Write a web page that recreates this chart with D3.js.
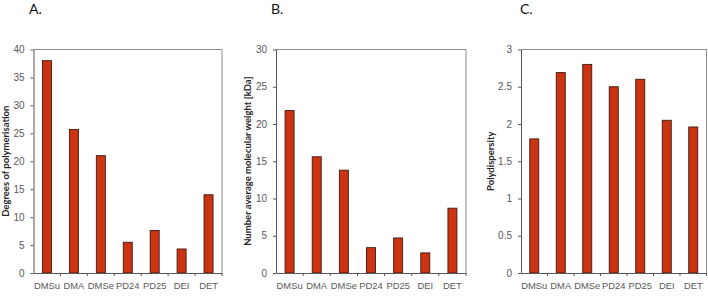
<!DOCTYPE html>
<html>
<head>
<meta charset="utf-8">
<script src="https://cdn.jsdelivr.net/npm/d3@7"></script>
<style>
  body { margin: 0; background: #fff; }
  svg { font-family: Lato, "Open Sans", sans-serif; }
  .axis text { fill: #595959; font-size: 10px; }
  .axis-x text { font-size: 9.4px; }
  .axis path, .axis line { stroke: #595959; }
</style>
</head>
<body>
<div id="chart"></div>
<script>
const categories = ['DMSu', 'DMA', 'DMSe', 'PD24', 'PD25', 'DEI', 'DET'];
const polymerisation = [38, 25.7, 21, 5.5, 7.6, 4.3, 14];
const molWeight = [21.8, 15.6, 13.8, 3.4, 4.7, 2.7, 8.7];
const polydispersity = [1.8, 2.69, 2.8, 2.5, 2.6, 2.05, 1.96];

const panels = [
  { letter: 'A.', label: 'Degrees of polymerisation', values: polymerisation,
    max: 40, step: 5, left: 33.5, right: 222, labelX: 9, letterX: 29 },
  { letter: 'B.', label: 'Number average molecular weight [kDa]', values: molWeight,
    max: 30, step: 5, left: 276, right: 466, labelX: 251, letterX: 271 },
  { letter: 'C.', label: 'Polydispersity', values: polydispersity,
    max: 3, step: 0.5, left: 521, right: 706.5, labelX: 494, letterX: 520 }
];

const width = 708, height = 306;
const plotTop = 49.5, plotBottom = 273;

const svg = d3.select('#chart')
  .append('svg')
    .attr('width', width)
    .attr('height', height);

panels.forEach(p => {
  const xScale = d3.scaleBand()
    .domain(categories)
    .range([p.left, p.right]);

  const yScale = d3.scaleLinear()
    .domain([0, p.max])
    .range([plotBottom, plotTop]);

  const g = svg.append('g');

  // frame (top and right)
  g.append('path')
    .attr('d', `M${p.left},${plotTop}H${p.right}V${plotBottom}`)
    .attr('fill', 'none')
    .attr('stroke', '#8c8c8c')
    .attr('stroke-width', 1);

  // bars
  const bw = 9;
  g.selectAll('.bar')
      .data(p.values)
    .enter().append('rect')
      .attr('class', 'bar')
      .attr('x', (d, i) => xScale(categories[i]) + xScale.bandwidth() / 2 - bw / 2)
      .attr('y', d => yScale(d))
      .attr('width', bw)
      .attr('height', d => plotBottom - yScale(d))
      .attr('fill', '#cc3311')
      .attr('stroke', '#3b1a12')
      .attr('stroke-width', 0.9);

  // y axis
  const ticks = d3.range(0, p.max + p.step / 2, p.step);
  g.append('g')
    .attr('class', 'axis axis-y')
    .attr('transform', `translate(${p.left}, 0)`)
    .call(d3.axisLeft(yScale).tickValues(ticks).tickSize(3).tickSizeOuter(0).tickPadding(6)
      .tickFormat(d => d3.format('')(d)));

  // x axis with ticks at band boundaries
  const xAxis = g.append('g')
    .attr('class', 'axis axis-x')
    .attr('transform', `translate(0, ${plotBottom})`)
    .call(d3.axisBottom(xScale).tickSize(0).tickSizeOuter(0).tickPadding(9));
  xAxis.selectAll('.bound')
      .data(categories.slice(1).concat(['end']))
    .enter().append('line')
      .attr('class', 'bound')
      .attr('x1', (d, i) => i < categories.length - 1 ? xScale(d) : p.right)
      .attr('x2', (d, i) => i < categories.length - 1 ? xScale(d) : p.right)
      .attr('y1', 0)
      .attr('y2', 3);

  // y label
  g.append('text')
    .attr('transform', `translate(${p.labelX}, ${(plotTop + plotBottom) / 2}) rotate(-90)`)
    .attr('text-anchor', 'middle')
    .attr('font-size', 9.5)
    .attr('font-weight', 'bold')
    .attr('fill', '#262626')
    .text(p.label);

  // panel letter
  g.append('text')
    .attr('x', p.letterX)
    .attr('y', 14)
    .attr('font-size', 14)
    .attr('fill', '#111')
    .text(p.letter);
});
</script>
</body>
</html>
